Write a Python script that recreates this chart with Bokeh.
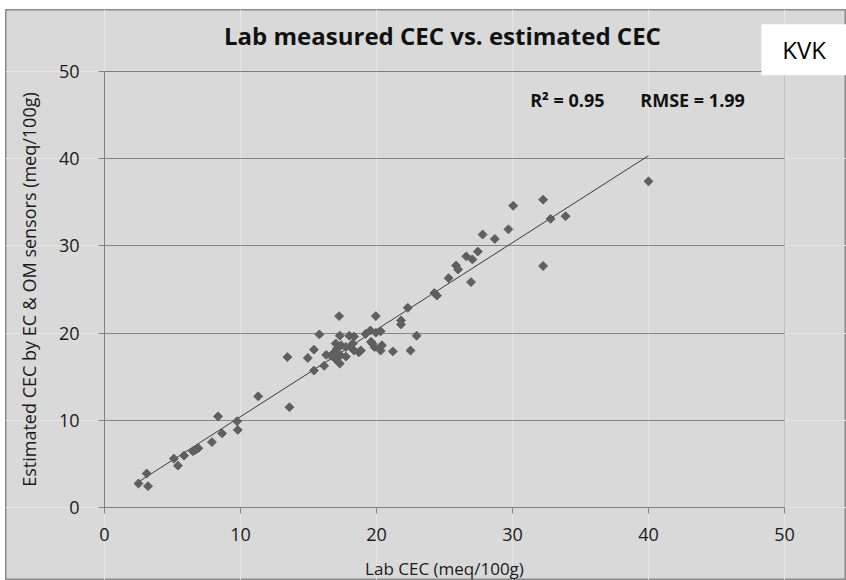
import numpy as np
from bokeh.plotting import figure
from bokeh.models import Label, Range1d, LinearAxis, Grid, FixedTicker, BoxAnnotation
from bokeh.embed import file_html
from bokeh.resources import INLINE

# Lab measured CEC (x) and estimated CEC (y), meq/100g
lab_cec = [2.5, 3.1, 3.2, 5.1, 5.4, 5.85, 6.5, 6.7, 6.9, 7.9, 8.65, 8.35, 9.75, 9.8,
           11.3, 13.6, 13.45,
           14.95, 15.4, 15.4, 15.8, 16.15, 16.3, 16.65, 16.9, 17.0, 17.0, 17.1, 17.25,
           17.3, 17.3, 17.4, 17.35, 17.75, 17.75, 18.0, 18.1, 18.25, 18.35, 18.35, 18.7,
           18.85, 19.2, 19.55, 19.6, 19.7, 19.85, 19.95, 19.95, 20.3, 20.4, 20.3, 21.2,
           21.8, 21.8, 22.3, 22.5, 22.95,
           24.25, 24.45, 25.3, 25.85, 26.0, 26.95, 26.6, 27.05, 27.45, 27.8, 28.7, 29.7,
           30.05, 32.25, 32.25, 32.8, 33.9, 40.0]
est_cec = [2.75, 3.9, 2.45, 5.6, 4.8, 5.95, 6.45, 6.6, 6.8, 7.5, 8.5, 10.45, 9.9, 8.9,
           12.75, 11.5, 17.25,
           17.15, 18.1, 15.7, 19.85, 16.25, 17.5, 17.4, 17.8, 18.8, 17.0, 18.2, 21.95,
           19.7, 16.5, 18.6, 17.45, 18.4, 17.3, 19.7, 18.4, 18.8, 19.6, 18.0, 17.8,
           18.0, 19.9, 20.3, 19.0, 18.8, 18.4, 21.95, 20.05, 20.2, 18.6, 18.0, 17.9,
           21.45, 21.0, 22.9, 18.0, 19.7,
           24.6, 24.3, 26.3, 27.75, 27.3, 25.85, 28.8, 28.45, 29.35, 31.3, 30.8, 31.9,
           34.6, 35.3, 27.7, 33.1, 33.4, 37.4]
axis_ticks = [0, 10, 20, 30, 40, 50]
axis_min, axis_max = 0, 50
title_text = "Lab measured CEC vs. estimated CEC"
x_title = "Lab CEC (meq/100g)"
y_title = "Estimated CEC by EC & OM sensors (meq/100g)"
r2_text = "R² = 0.95"
rmse_text = "RMSE = 1.99"
badge_text = "KVK"

BG = "#d9d9d9"
GRID = "#868686"
FONT = "Open Sans"

# chart canvas: the frame covers the whole chart, the 0-50 plot area sits inside it
W, H = 841, 571
PX_X = 13.6   # pixels per unit, x
PX_Y = 8.72   # pixels per unit, y
x0_px, y0_px = 99, 498  # position of (0, 0) inside the canvas
x_range = Range1d(-x0_px / PX_X, (W - x0_px) / PX_X)
y_range = Range1d((y0_px - H) / PX_Y, y0_px / PX_Y)

p = figure(width=W, height=H, output_backend="svg", toolbar_location=None,
           x_range=x_range, y_range=y_range,
           x_axis_location=None, y_axis_location=None,
           min_border=0)
p.background_fill_color = BG
p.border_fill_color = BG
p.outline_line_color = "#8a8a8a"
p.outline_line_width = 2
p.styles = {"margin-left": "5px", "margin-top": "9px"}

ticker = FixedTicker(ticks=axis_ticks)
xaxis = LinearAxis(fixed_location=axis_min, bounds=(axis_min, axis_max), ticker=ticker,
                   axis_label=x_title)
yaxis = LinearAxis(fixed_location=axis_min, bounds=(axis_min, axis_max), ticker=ticker,
                   axis_label=y_title)
for ax in (xaxis, yaxis):
    ax.axis_line_color = GRID
    ax.major_tick_line_color = GRID
    ax.major_tick_out = 6
    ax.major_tick_in = 0
    ax.minor_tick_line_color = None
    ax.major_label_text_font = FONT
    ax.major_label_text_font_size = "18px"
    ax.major_label_text_color = "#1a1a1a"
    ax.axis_label_text_font = FONT
    ax.axis_label_text_font_style = "normal"
    ax.axis_label_text_color = "#1a1a1a"
xaxis.axis_label_text_font_size = "17px"
yaxis.axis_label_text_font_size = "18px"
xaxis.major_label_standoff = 14
xaxis.axis_label_standoff = 13
yaxis.major_label_standoff = 19
yaxis.axis_label_standoff = 15
p.add_layout(xaxis, "below")
p.add_layout(yaxis, "left")

ygrid = Grid(dimension=1, ticker=ticker, bounds=(axis_min, axis_max),
             cross_bounds=(axis_min, axis_max), grid_line_color=GRID, grid_line_width=1)
p.add_layout(ygrid)

# plot-area border
p.add_layout(BoxAnnotation(left=axis_min, right=axis_max, bottom=axis_min, top=axis_max,
                           fill_alpha=0, line_color="#6e6e6e", line_width=1))

# trend line (least-squares fit of the data)
slope, intercept = np.polyfit(lab_cec, est_cec, 1)
xs = np.array([min(lab_cec), max(lab_cec)])
p.line(xs, slope * xs + intercept, line_color="#3a3a3a", line_width=1)

p.scatter(lab_cec, est_cec, marker="square", angle=np.pi / 4, size=6.3,
          fill_color="#5f5f5f", line_color="#5f5f5f")

p.add_layout(Label(x=24.85, y=54.1, text=title_text, text_align="center",
                   text_baseline="middle", text_font=FONT, text_font_size="24px",
                   text_font_style="bold", text_color="#111111"))
p.add_layout(Label(x=31.3, y=46.7, text=r2_text, text_align="left",
                   text_baseline="middle", text_font=FONT, text_font_size="18px",
                   text_font_style="bold", text_color="#111111"))
p.add_layout(Label(x=39.4, y=46.7, text=rmse_text, text_align="left",
                   text_baseline="middle", text_font=FONT, text_font_size="18px",
                   text_font_style="bold", text_color="#111111"))
p.add_layout(Label(x=51.45, y=52.5, text=badge_text, text_align="center",
                   text_baseline="middle", text_font=FONT, text_font_size="24px",
                   text_color="#000000", background_fill_color="white",
                   padding=(21, 9)))

open("out.html", "w").write(file_html(p, INLINE))
